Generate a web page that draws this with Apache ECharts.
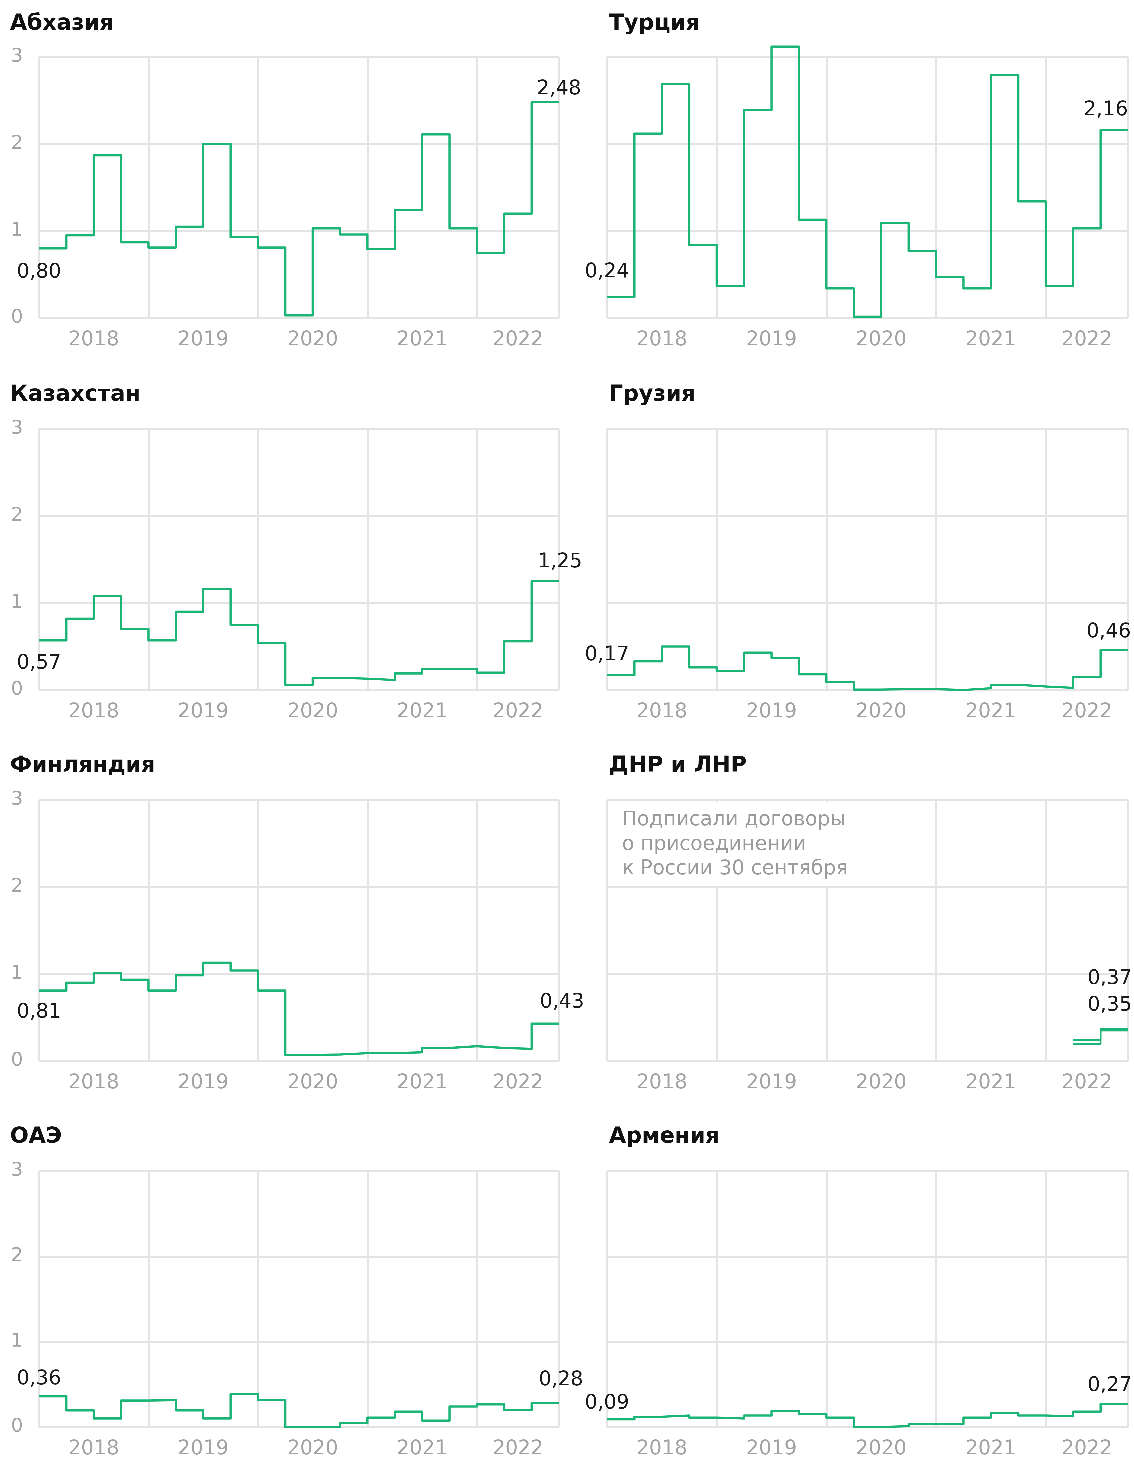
<!DOCTYPE html>
<html>
<head>
<meta charset="utf-8">
<script src="https://cdn.jsdelivr.net/npm/echarts@6/dist/echarts.min.js"></script>
<style>
  html, body { margin: 0; padding: 0; background: #fff; }
  #chart { width: 1134px; height: 1459px; }
</style>
</head>
<body>
<div id="chart"></div>
<script>
// quarterly values, 2018 Q1 .. 2022 Q3
const years = ["2018", "2019", "2020", "2021", "2022"];
const abkhazia = [0.80, 0.95, 1.87, 0.87, 0.81, 1.05, 2.00, 0.93, 0.81, 0.03, 1.03, 0.96, 0.79, 1.24, 2.11, 1.03, 0.75, 1.20, 2.48];
const turkey = [0.24, 2.12, 2.69, 0.84, 0.37, 2.39, 3.12, 1.13, 0.34, 0.015, 1.09, 0.77, 0.47, 0.34, 2.79, 1.34, 0.37, 1.03, 2.16];
const kazakhstan = [0.57, 0.82, 1.08, 0.70, 0.57, 0.90, 1.16, 0.75, 0.54, 0.06, 0.14, 0.13, 0.115, 0.19, 0.24, 0.24, 0.20, 0.56, 1.25];
const georgia = [0.17, 0.33, 0.50, 0.26, 0.22, 0.43, 0.37, 0.18, 0.09, 0.005, 0.01, 0.01, 0.0, 0.02, 0.06, 0.04, 0.025, 0.15, 0.46];
const finland = [0.81, 0.90, 1.01, 0.935, 0.81, 0.985, 1.13, 1.04, 0.81, 0.07, 0.075, 0.09, 0.09, 0.10, 0.15, 0.17, 0.15, 0.14, 0.43];
const dnr = [null, null, null, null, null, null, null, null, null, null, null, null, null, null, null, null, null, 0.24, 0.37];
const lnr = [null, null, null, null, null, null, null, null, null, null, null, null, null, null, null, null, null, 0.195, 0.35];
const uae = [0.36, 0.195, 0.10, 0.31, 0.315, 0.195, 0.10, 0.385, 0.315, 0.0, 0.0, 0.045, 0.11, 0.18, 0.075, 0.24, 0.265, 0.20, 0.28];
const armenia = [0.09, 0.12, 0.135, 0.11, 0.10, 0.135, 0.19, 0.15, 0.11, 0.0, 0.01, 0.035, 0.035, 0.11, 0.165, 0.135, 0.125, 0.18, 0.27];

const N = abkhazia.length;
const GREEN = "#1bb576";
const GRIDC = "#e4e4e4";
const FONT = "DejaVu Sans";

// first: label offset for first point, last: [dy, align, dx] for end point of each line
const panels = [
  { title: "Абхазия", lines: [abkhazia], col: 0, row: 0, first: 24, last: [[-13, "center", 0]] },
  { title: "Турция", lines: [turkey], col: 1, row: 0, first: -25, last: [[-20, "right", 0]] },
  { title: "Казахстан", lines: [kazakhstan], col: 0, row: 1, first: 23, last: [[-19, "center", 1]] },
  { title: "Грузия", lines: [georgia], col: 1, row: 1, first: -20, last: [[-18, "right", 3]] },
  { title: "Финляндия", lines: [finland], col: 0, row: 2, first: 22, last: [[-21, "center", 3]] },
  { title: "ДНР и ЛНР", lines: [dnr, lnr], col: 1, row: 2, first: null, last: [[-50, "right", 4], [-25, "right", 4]] },
  { title: "ОАЭ", lines: [uae], col: 0, row: 3, first: -17, last: [[-23, "center", 2]] },
  { title: "Армения", lines: [armenia], col: 1, row: 3, first: -16, last: [[-18, "right", 4]] }
];

const colLeft = [39, 607];
const colWidth = [520, 521];
const rowTop = [57, 429, 800, 1171];
const plotH = 261;
const titleTop = [13, 384, 755, 1126];

// centre of each year span on the quarter scale
const yearCenters = years.map((y, i) => (4 * i + Math.min(4 * i + 4, N)) / 2);

const fmt = (v) => v.toFixed(2).replace(".", ",");

const grid = [], xAxis = [], yAxis = [], series = [], title = [];

panels.forEach((p, k) => {
  grid.push({ left: colLeft[p.col], top: rowTop[p.row], width: colWidth[p.col], height: plotH, containLabel: false });
  title.push({
    text: p.title,
    left: p.col === 0 ? 10 : 609,
    top: titleTop[p.row],
    padding: 0,
    textStyle: { fontFamily: FONT, fontSize: 22, fontWeight: "bold", color: "#111" }
  });
  // grid lines
  xAxis.push({
    type: "value", gridIndex: k, min: 0, max: N, interval: 4,
    axisLine: { show: false }, axisTick: { show: false }, axisLabel: { show: false },
    splitLine: { show: true, lineStyle: { color: GRIDC, width: 1.5 } }
  });
  // year labels
  xAxis.push({
    type: "value", gridIndex: k, position: "bottom", min: 0, max: N, interval: 0.5,
    axisLine: { show: false }, axisTick: { show: false }, splitLine: { show: false },
    axisLabel: {
      show: true, margin: 12, fontFamily: FONT, fontSize: 20, color: "#a3a3a3",
      showMinLabel: true, showMaxLabel: true,
      formatter: (v) => {
        const idx = yearCenters.findIndex((c) => Math.abs(c - v) < 1e-6);
        return idx >= 0 ? years[idx] : "";
      }
    }
  });
  yAxis.push({
    type: "value", gridIndex: k, min: 0, max: 3, interval: 1,
    axisLine: { show: false }, axisTick: { show: false },
    axisLabel: { show: p.col === 0, margin: 16, fontFamily: FONT, fontSize: 19, color: "#a3a3a3" },
    splitLine: { show: true, lineStyle: { color: GRIDC, width: 1.5 } }
  });

  p.lines.forEach((vals, j) => {
    const firstIdx = vals.findIndex((v) => v !== null);
    const data = vals.map((v, i) => {
      const item = { value: [i, v] };
      if (i === firstIdx && p.first !== null) {
        item.label = { show: true, position: "inside", offset: [0, p.first], align: "center", verticalAlign: "middle" };
      }
      return item;
    });
    const lc = p.last[j];
    data.push({
      value: [N, vals[N - 1]],
      label: { show: true, position: "inside", offset: [lc[2], lc[0]], align: lc[1], verticalAlign: "middle" }
    });
    series.push({
      type: "line", xAxisIndex: 2 * k, yAxisIndex: k, step: "end", clip: false,
      connectNulls: false, silent: true, animation: false,
      symbol: "circle", symbolSize: 0, showSymbol: true,
      itemStyle: { color: "rgba(0,0,0,0)" },
      lineStyle: { color: GREEN, width: p.lines.length > 1 ? 1.7 : 2.2, join: "round" },
      emphasis: { disabled: true },
      label: {
        show: false, fontFamily: FONT, fontSize: 20, color: "#1a1a1a",
        formatter: (prm) => fmt(prm.value[1])
      },
      data: data
    });
  });
});

// high pixel ratio so tiny step risers are not dropped by path simplification
const chart = echarts.init(document.getElementById("chart"), null, { renderer: "canvas", devicePixelRatio: 3 });
chart.setOption({
  backgroundColor: "#fff",
  animation: false,
  title: title,
  grid: grid,
  xAxis: xAxis,
  yAxis: yAxis,
  series: series,
  graphic: [
    { type: "rect", z: 10, shape: { x: 608.5, y: 802, width: 326.5, height: 84 }, style: { fill: "#fff" }, silent: true },
    {
      type: "text", z: 11, x: 622, y: 808, silent: true,
      style: {
        text: "Подписали договоры\nо присоединении\nк России 30 сентября",
        fontFamily: FONT, fontSize: 20, lineHeight: 24.5, fill: "#9b9b9b"
      }
    }
  ]
});
</script>
</body>
</html>
